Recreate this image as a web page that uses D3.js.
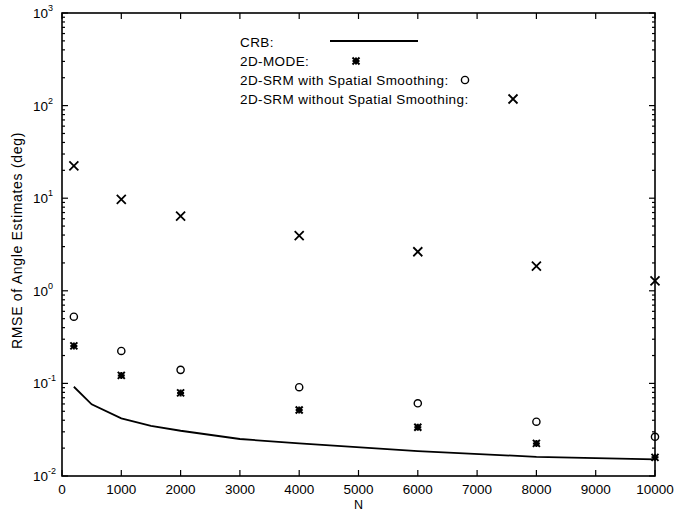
<!DOCTYPE html>
<html>
<head>
<meta charset="utf-8">
<script src="https://cdn.jsdelivr.net/npm/d3@7"></script>
<style>
  body { margin: 0; background: #fff; }
  svg { font-family: "Liberation Sans", Arial, sans-serif; }
</style>
</head>
<body>
<div id="vis"></div>
<script>
const FRAME_WIDTH = 681;
const FRAME_HEIGHT = 517;
const MARGINS = {left: 62, right: 26, top: 13, bottom: 41};

// data
const N_VALUES = [200, 1000, 2000, 4000, 6000, 8000, 10000];
const MODE_RMSE = [0.254, 0.122, 0.079, 0.0516, 0.0336, 0.0225, 0.0159];
const SRM_SS_RMSE = [0.525, 0.224, 0.14, 0.091, 0.061, 0.0386, 0.0265];
const SRM_NOSS_RMSE = [22.3, 9.7, 6.4, 3.94, 2.64, 1.85, 1.28];
const CRB_N = [200, 500, 1000, 1500, 2000, 3000, 4000, 6000, 8000, 10000];
const CRB_RMSE = [0.092, 0.0594, 0.042, 0.0347, 0.0308, 0.0251, 0.0225, 0.0186, 0.0161, 0.0151];
const X_TICKS = [0, 1000, 2000, 3000, 4000, 5000, 6000, 7000, 8000, 9000, 10000];
const Y_EXPONENTS = [-2, -1, 0, 1, 2, 3];
const LEGEND_LABELS = ["CRB:", "2D-MODE:", "2D-SRM with Spatial Smoothing:", "2D-SRM without Spatial Smoothing:"];

const VIS_WIDTH = FRAME_WIDTH - MARGINS.left - MARGINS.right;
const VIS_HEIGHT = FRAME_HEIGHT - MARGINS.top - MARGINS.bottom;

const FRAME = d3.select("#vis")
  .append("svg")
  .attr("width", FRAME_WIDTH)
  .attr("height", FRAME_HEIGHT);

const X_SCALE = d3.scaleLinear().domain([0, 10000]).range([MARGINS.left, MARGINS.left + VIS_WIDTH]);
const Y_SCALE = d3.scaleLog().domain([0.01, 1000]).range([MARGINS.top + VIS_HEIGHT, MARGINS.top]);

const x0 = MARGINS.left, x1 = MARGINS.left + VIS_WIDTH;
const y0 = MARGINS.top + VIS_HEIGHT, y1 = MARGINS.top;

// ticks, all pointing inward
const minorY = [];
Y_EXPONENTS.slice(0, -1).forEach(e => {
  for (let k = 2; k <= 9; k++) minorY.push(k * Math.pow(10, e));
});
const ticks = FRAME.append("g").attr("stroke", "#000").attr("stroke-width", 1.2);
[x0, x1].forEach((xx, i) => {
  const dir = i === 0 ? 1 : -1;
  ticks.selectAll(null).data(Y_EXPONENTS).enter().append("line")
    .attr("x1", xx).attr("x2", xx + dir * 6)
    .attr("y1", d => Y_SCALE(Math.pow(10, d))).attr("y2", d => Y_SCALE(Math.pow(10, d)));
  ticks.selectAll(null).data(minorY).enter().append("line")
    .attr("x1", xx).attr("x2", xx + dir * 3)
    .attr("y1", d => Y_SCALE(d)).attr("y2", d => Y_SCALE(d));
});
[y0, y1].forEach((yy, i) => {
  const dir = i === 0 ? -1 : 1;
  ticks.selectAll(null).data(X_TICKS).enter().append("line")
    .attr("x1", d => X_SCALE(d)).attr("x2", d => X_SCALE(d))
    .attr("y1", yy).attr("y2", yy + dir * 6);
});

// frame
FRAME.append("rect")
  .attr("x", x0).attr("y", y1)
  .attr("width", VIS_WIDTH).attr("height", VIS_HEIGHT)
  .attr("fill", "none").attr("stroke", "#000").attr("stroke-width", 1.6);

// x tick labels
FRAME.append("g").selectAll("text").data(X_TICKS).enter().append("text")
  .attr("x", d => X_SCALE(d)).attr("y", y0 + 18)
  .attr("text-anchor", "middle")
  .attr("font-size", 13.5)
  .text(d => d);

// y tick labels as 10^e
const yLab = FRAME.append("g").selectAll("text").data(Y_EXPONENTS).enter().append("text")
  .attr("x", 33).attr("y", d => Y_SCALE(Math.pow(10, d)) + 5)
  .attr("font-size", 13.5);
yLab.append("tspan").text("10");
yLab.append("tspan").attr("dy", -7).attr("font-size", 9).text(d => d);

// axis titles
FRAME.append("text")
  .attr("x", (x0 + x1) / 2).attr("y", y0 + 33)
  .attr("text-anchor", "middle").attr("font-size", 12.5)
  .text("N");
FRAME.append("text")
  .attr("transform", `translate(22, ${(y0 + y1) / 2 - 4}) rotate(-90)`)
  .attr("text-anchor", "middle").attr("font-size", 14)
  .attr("letter-spacing", 0.7)
  .text("RMSE of Angle Estimates (deg)");

// CRB line
const crbLine = d3.line().x(d => X_SCALE(d[0])).y(d => Y_SCALE(d[1]));
FRAME.append("path")
  .datum(CRB_N.map((n, i) => [n, CRB_RMSE[i]]))
  .attr("d", crbLine)
  .attr("fill", "none").attr("stroke", "#000").attr("stroke-width", 1.8);

// marker drawers
function drawStar(g, x, y) {
  const r = 3.5;
  g.append("path")
    .attr("d", `M${x - r},${y}H${x + r}M${x},${y - r}V${y + r}M${x - r},${y - r}L${x + r},${y + r}M${x - r},${y + r}L${x + r},${y - r}`)
    .attr("stroke", "#000").attr("stroke-width", 2).attr("fill", "none");
}
function drawCircle(g, x, y) {
  g.append("circle").attr("cx", x).attr("cy", y).attr("r", 3.6)
    .attr("fill", "none").attr("stroke", "#000").attr("stroke-width", 1.4);
}
function drawCross(g, x, y) {
  const r = 4.5;
  g.append("path")
    .attr("d", `M${x - r},${y - r}L${x + r},${y + r}M${x - r},${y + r}L${x + r},${y - r}`)
    .attr("stroke", "#000").attr("stroke-width", 1.8).attr("fill", "none");
}

const marks = FRAME.append("g");
N_VALUES.forEach((n, i) => {
  drawStar(marks, X_SCALE(n), Y_SCALE(MODE_RMSE[i]));
  drawCircle(marks, X_SCALE(n), Y_SCALE(SRM_SS_RMSE[i]));
  drawCross(marks, X_SCALE(n), Y_SCALE(SRM_NOSS_RMSE[i]));
});

// legend
const legend = FRAME.append("g");
const LEGEND_Y = [47, 66, 85, 104];
legend.selectAll("text").data(LEGEND_LABELS).enter().append("text")
  .attr("x", 240).attr("y", (d, i) => LEGEND_Y[i])
  .attr("font-size", 13.5)
  .attr("letter-spacing", 0.4)
  .text(d => d);
legend.append("line").attr("x1", 330).attr("x2", 418).attr("y1", 41).attr("y2", 41)
  .attr("stroke", "#000").attr("stroke-width", 1.8);
drawStar(legend, 356, 61);
drawCircle(legend, 465, 80);
drawCross(legend, 513, 99);
</script>
</body>
</html>
